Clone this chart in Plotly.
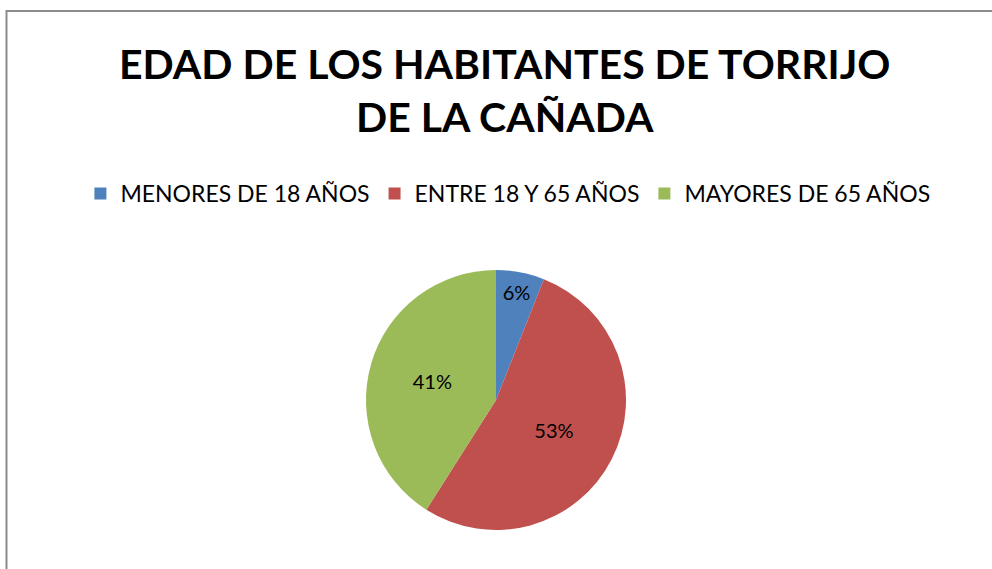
import plotly.graph_objects as go

TITLE = "EDAD DE LOS HABITANTES DE TORRIJO<br>DE LA CAÑADA"
groups = ["MENORES DE 18 AÑOS", "ENTRE 18 Y 65 AÑOS", "MAYORES DE 65 AÑOS"]
shares = [6, 53, 41]
colors = ["#4F81BD", "#C0504D", "#9BBB59"]

W, H = 992, 569

fig = go.Figure()
fig.add_pie(
    labels=groups,
    values=shares,
    sort=False,
    direction="clockwise",
    rotation=0,
    marker={"colors": colors, "line": {"width": 0}},
    texttemplate="%{percent:.0%}",
    textposition="inside",
    insidetextfont={"size": 20, "color": "#000000", "family": "Lato"},
    domain={"x": [0.2, 0.8], "y": [39 / H, 299 / H]},
    hoverinfo="label+percent",
)
fig.add_annotation(
    text=TITLE,
    xref="paper",
    yref="paper",
    x=504 / W,
    xanchor="center",
    y=1 - 37 / H,
    yanchor="top",
    showarrow=False,
    font={"size": 41, "family": "Lato", "weight": "bold", "color": "#000000"},
)
fig.update_layout(
    width=W,
    height=H,
    autosize=False,
    margin={"l": 0, "r": 0, "t": 0, "b": 0, "pad": 0, "autoexpand": False},
    paper_bgcolor="white",
    font={"family": "Lato", "color": "#000000"},
    legend={
        "orientation": "h",
        "x": 0.512,
        "xanchor": "center",
        "y": 1 - 172 / H,
        "yanchor": "top",
        "font": {"size": 23},
        "traceorder": "normal",
    },
    shapes=[
        {
            "type": "rect",
            "xref": "paper",
            "yref": "paper",
            "x0": 6.5 / W,
            "x1": 1.02,
            "y0": -0.02,
            "y1": 1 - 11 / H,
            "line": {"color": "#8c8c8c", "width": 2},
        }
    ],
)
# the page body has a default 8px margin; drop it so the figure sits at 0,0
fig.write_html(
    "out.html",
    config={"displayModeBar": False},
    post_script="document.body.style.margin = '0';",
)
